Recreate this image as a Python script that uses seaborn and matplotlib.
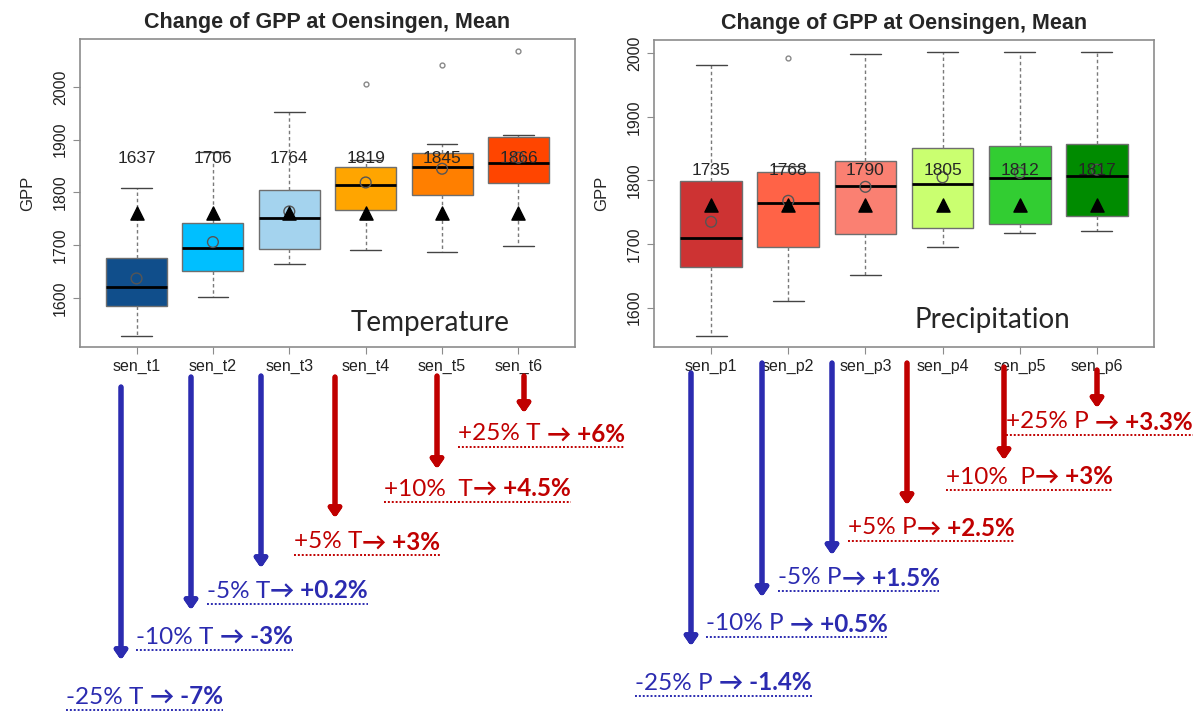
import numpy as np
import pandas as pd
import matplotlib
matplotlib.use("Agg")
import matplotlib.pyplot as plt
from matplotlib.lines import Line2D
import seaborn as sns

# ---- data ----
t_names = ["sen_t1", "sen_t2", "sen_t3", "sen_t4", "sen_t5", "sen_t6"]
t_low = [1527, 1601, 1665, 1691, 1688, 1699]
t_q1 = [1584, 1651, 1693, 1767, 1795, 1818]
t_med = [1621, 1695, 1751, 1814, 1848, 1856]
t_q3 = [1675, 1743, 1805, 1849, 1874, 1905]
t_high = [1809, 1876, 1953, 1862, 1891, 1909]
t_out = [None, None, None, 2006, 2042, 2069]
t_mean = [1637, 1706, 1764, 1819, 1845, 1866]
t_colors = ["#104E8B", "#00BFFF", "#A4D3EE", "#FFA500", "#FF7F00", "#FF4500"]

p_names = ["sen_p1", "sen_p2", "sen_p3", "sen_p4", "sen_p5", "sen_p6"]
p_low = [1555, 1611, 1652, 1695, 1717, 1720]
p_q1 = [1664, 1695, 1715, 1725, 1732, 1744]
p_med = [1710, 1764, 1792, 1795, 1804, 1807]
p_q3 = [1799, 1813, 1830, 1851, 1854, 1858]
p_high = [1981, 1822, 1999, 2002, 2002, 2002]
p_out = [None, 1992, None, None, None, None]
p_mean = [1735, 1768, 1790, 1805, 1812, 1817]
p_colors = ["#CD3333", "#FF6347", "#FA8072", "#CAFF70", "#32CD32", "#008B00"]

baseline = 1761  # black triangles

# percent-change notes under the panels
t_change = ["-25% T ", "-10% T ", "-5% T", "+5% T", "+10%  T", "+25% T "]
t_result = ["-7%", "-3%", "+0.2%", "+3%", "+4.5%", "+6%"]
p_change = ["-25% P ", "-10% P ", "-5% P", "+5% P", "+10%  P", "+25% P "]
p_result = ["-1.4%", "+0.5%", "+1.5%", "+2.5%", "+3%", "+3.3%"]


def long_table(names, low, q1, med, q3, high, out):
    # samples whose quartiles / whiskers reproduce the read-off summaries
    rows = []
    for i, n in enumerate(names):
        if out[i] is None:
            vals = [low[i], q1[i], q1[i], med[i], q3[i], q3[i], high[i]]
        else:
            vals = [low[i], q1[i], q1[i], med[i], med[i], q3[i], q3[i], high[i], out[i]]
        rows += [(n, v) for v in vals]
    return pd.DataFrame(rows, columns=["scenario", "GPP"])


t_df = long_table(t_names, t_low, t_q1, t_med, t_q3, t_high, t_out)
p_df = long_table(p_names, p_low, p_q1, p_med, p_q3, p_high, p_out)

sns.set_style("ticks")
plt.rcParams["font.family"] = ["Liberation Sans", "DejaVu Sans"]

W, H = 1193, 711
fig = plt.figure(figsize=(W / 100, H / 100), dpi=100)
ax1 = fig.add_axes([80 / W, 1 - 347 / H, 495 / W, 308 / H])
ax2 = fig.add_axes([654 / W, 1 - 347 / H, 500 / W, 307 / H])


def panel(ax, df, names, colors, means, label_y, ylim, tag, tag_xy):
    sns.boxplot(data=df, x="scenario", y="GPP", hue="scenario", order=names,
                palette=colors, saturation=1, width=0.8, legend=False,
                linecolor="#6e6e6e", linewidth=1, ax=ax,
                whiskerprops=dict(linestyle=(0, (2.5, 2)), color="#7a7a7a"),
                capprops=dict(color="#444444"),
                medianprops=dict(color="black", linewidth=2),
                flierprops=dict(marker="o", markerfacecolor="none",
                                markeredgecolor="#888888", markersize=3.5))
    xs = np.arange(len(names))
    ax.scatter(xs, means, marker="o", facecolors="none", edgecolors="#555555",
               s=60, linewidths=1, zorder=5)
    ax.scatter(xs, [baseline] * len(names), marker="^", color="black", s=90, zorder=6)
    for x, m in zip(xs, means):
        ax.text(x, label_y, str(m), ha="center", va="center", fontsize=12.5, zorder=7)
    ax.set_xlim(-0.74, 5.74)
    ax.set_ylim(*ylim)
    ax.set_yticks([1600, 1700, 1800, 1900, 2000])
    for lab in ax.get_yticklabels():
        lab.set_rotation(90)
        lab.set_va("center")
    ax.tick_params(axis="both", labelsize=11.5, length=5, color="#8c8c8c",
                   labelcolor="#222222")
    ax.set_xlabel("")
    ax.set_ylabel("GPP", fontsize=12, labelpad=13)
    for s in ax.spines.values():
        s.set_color("#8c8c8c")
        s.set_linewidth(1.2)
    ax.set_title("Change of GPP at Oensingen, Mean", fontsize=15.5,
                 fontweight="bold", pad=8)
    ax.text(tag_xy[0], tag_xy[1], tag, transform=ax.transAxes, ha="center",
            va="center", fontsize=20, family=["Lato", "DejaVu Sans"])


panel(ax1, t_df, t_names, t_colors, t_mean, 1865, (1507, 2091),
      "Temperature", (0.707, 0.078))
panel(ax2, p_df, p_names, p_colors, p_mean, 1816, (1538, 2021),
      "Precipitation", (0.676, 0.088))

BLUE = "#2B2BB0"
RED = "#C00000"

# arrows: x, y top, y bottom (figure pixels from top-left)
arrows = [(121, 387, 660), (191, 377, 610), (261, 376, 568),
          (335, 377, 518), (437, 376, 469), (524, 376, 413),
          (691, 373, 646), (762, 363, 597), (832, 363, 555),
          (907, 363, 505), (1004, 367, 460), (1097, 370, 408)]
notes_xy = [(66, 697), (136, 637), (207, 591), (294, 542), (384, 489), (458, 434),
            (635, 683), (706, 624), (778, 578), (848, 528), (946, 477), (1006, 422)]
changes = t_change + p_change
results = t_result + p_result
colors = [BLUE, BLUE, BLUE, RED, RED, RED] * 2

renderer = fig.canvas.get_renderer()
for (ax_x, y0, y1), (nx, ny), ch, res, col in zip(arrows, notes_xy, changes, results, colors):
    fig.add_artist(plt.annotate("", xy=(ax_x, H - y1), xytext=(ax_x, H - y0),
                                xycoords="figure pixels", textcoords="figure pixels",
                                arrowprops=dict(arrowstyle="-|>,head_width=0.35,head_length=0.5",
                                                lw=3.6, color=col, shrinkA=0, shrinkB=0)))
    t1 = fig.text(nx / W, 1 - ny / H, ch, color=col, fontsize=17.5, ha="left",
                  va="center", family=["Lato", "DejaVu Sans"])
    bb = t1.get_window_extent(renderer)
    t2 = fig.text(bb.x1 / W, 1 - ny / H, "\u2192 " + res, color=col, fontsize=17.5,
                  fontweight="bold", ha="left", va="center",
                  family=["Lato", "DejaVu Sans"])
    bb2 = t2.get_window_extent(renderer)
    uy = 1 - (ny + 13) / H
    fig.add_artist(Line2D([nx / W, bb2.x1 / W], [uy, uy], transform=fig.transFigure,
                          color=col, lw=1.4, linestyle=(0, (1, 1))))

fig.savefig("out.png", dpi=100)
